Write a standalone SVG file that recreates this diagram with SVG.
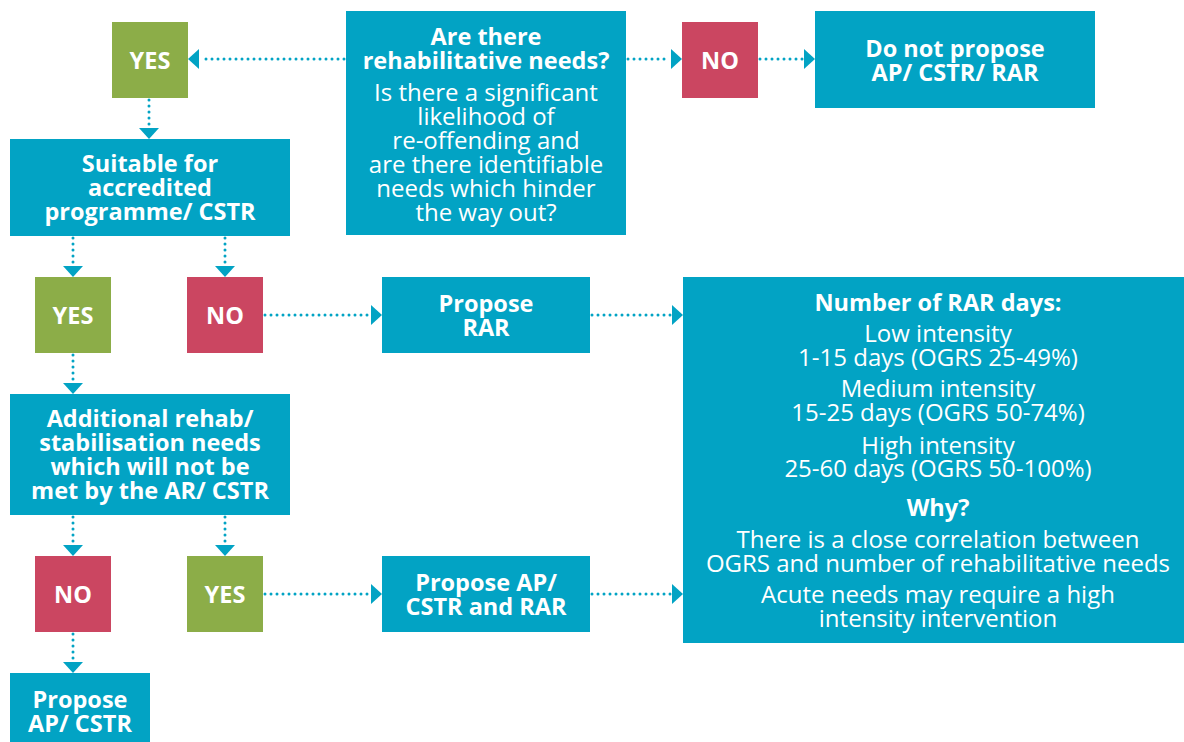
<svg xmlns="http://www.w3.org/2000/svg" width="1184" height="742" viewBox="0 0 1184 742">
<style>
.t{fill:#02a3c4}.g{fill:#8cad48}.r{fill:#cb4661}
text{font-family:"Open Sans","Liberation Sans",sans-serif;fill:#fff;text-anchor:middle;font-size:24px}
.b{font-weight:700;font-size:23.5px}
.c{fill:none;stroke:#02a3c4;stroke-width:3;stroke-linecap:round;stroke-dasharray:0 6}
.h{fill:#02a3c4}
</style>
<rect width="1184" height="742" fill="#fff"/>
<g id="q1"><rect class="t" x="346" y="11" width="280" height="224"/>
<text class="b" x="486" y="45">Are there</text>
<text class="b" x="486" y="69">rehabilitative needs?</text>
<text x="486" y="101">Is there a significant</text>
<text x="486" y="125">likelihood of</text>
<text x="486" y="149">re-offending and</text>
<text x="486" y="173">are there identifiable</text>
<text x="486" y="197">needs which hinder</text>
<text x="486" y="221">the way out?</text></g>
<g id="yes1"><rect class="g" x="112" y="22" width="76" height="76"/><text class="b" x="150" y="69">YES</text></g>
<g id="no1"><rect class="r" x="682" y="22" width="76" height="76"/><text class="b" x="720" y="69">NO</text></g>
<g id="dnp"><rect class="t" x="815" y="11" width="280" height="97"/>
<text class="b" x="955" y="57">Do not propose</text><text class="b" x="955" y="81">AP/ CSTR/ RAR</text></g>
<g id="suit"><rect class="t" x="10" y="139" width="280" height="97"/>
<text class="b" x="150" y="172">Suitable for</text><text class="b" x="150" y="196">accredited</text><text class="b" x="150" y="220">programme/ CSTR</text></g>
<g id="yes2"><rect class="g" x="35" y="277" width="76" height="76"/><text class="b" x="73" y="324">YES</text></g>
<g id="no2"><rect class="r" x="187" y="277" width="76" height="76"/><text class="b" x="225" y="324">NO</text></g>
<g id="prar"><rect class="t" x="382" y="277" width="208" height="76"/>
<text class="b" x="486" y="312">Propose</text><text class="b" x="486" y="336">RAR</text></g>
<g id="days"><rect class="t" x="683" y="277" width="501" height="366"/>
<text class="b" x="938" y="311">Number of RAR days:</text>
<text x="938" y="342">Low intensity</text>
<text x="938" y="366">1-15 days (OGRS 25-49%)</text>
<text x="938" y="397">Medium intensity</text>
<text x="938" y="421">15-25 days (OGRS 50-74%)</text>
<text x="938" y="454">High intensity</text>
<text x="938" y="477">25-60 days (OGRS 50-100%)</text>
<text class="b" x="938" y="516">Why?</text>
<text x="938" y="548">There is a close correlation between</text>
<text x="938" y="572">OGRS and number of rehabilitative needs</text>
<text x="938" y="603">Acute needs may require a high</text>
<text x="938" y="627">intensity intervention</text></g>
<g id="add"><rect class="t" x="10" y="394" width="280" height="121"/>
<text class="b" x="150" y="427">Additional rehab/</text><text class="b" x="150" y="451">stabilisation needs</text><text class="b" x="150" y="475">which will not be</text><text class="b" x="150" y="499">met by the AR/ CSTR</text></g>
<g id="no3"><rect class="r" x="35" y="556" width="76" height="76"/><text class="b" x="73" y="603">NO</text></g>
<g id="yes3"><rect class="g" x="187" y="556" width="76" height="76"/><text class="b" x="225" y="603">YES</text></g>
<g id="papr"><rect class="t" x="382" y="556" width="208" height="76"/>
<text class="b" x="486" y="591">Propose AP/</text><text class="b" x="486" y="615">CSTR and RAR</text></g>
<g id="pap"><rect class="t" x="10" y="673" width="140" height="69"/>
<text class="b" x="80" y="708">Propose</text><text class="b" x="80" y="732">AP/ CSTR</text></g>
<g id="connectors">
<path class="c" d="M344 59H201"/><polygon class="h" points="188,59 199,49 199,69"/>
<path class="c" d="M628 59H670"/><polygon class="h" points="682,59 671,49 671,69"/>
<path class="c" d="M760 59H803"/><polygon class="h" points="815,59 804,49 804,69"/>
<path class="c" d="M149 100V126"/><polygon class="h" points="149,139 139,128 159,128"/>
<path class="c" d="M73 238V264"/><polygon class="h" points="73,277 63,266 83,266"/>
<path class="c" d="M225 238V264"/><polygon class="h" points="225,277 215,266 235,266"/>
<path class="c" d="M265 315H370"/><polygon class="h" points="382,315 371,305 371,325"/>
<path class="c" d="M592 315H671"/><polygon class="h" points="683,315 672,305 672,325"/>
<path class="c" d="M73 355V381"/><polygon class="h" points="73,394 63,383 83,383"/>
<path class="c" d="M73 517V543"/><polygon class="h" points="73,556 63,545 83,545"/>
<path class="c" d="M225 517V543"/><polygon class="h" points="225,556 215,545 235,545"/>
<path class="c" d="M265 594H370"/><polygon class="h" points="382,594 371,584 371,604"/>
<path class="c" d="M592 594H671"/><polygon class="h" points="683,594 672,584 672,604"/>
<path class="c" d="M73 634V660"/><polygon class="h" points="73,673 63,662 83,662"/>
</g>
</svg>
